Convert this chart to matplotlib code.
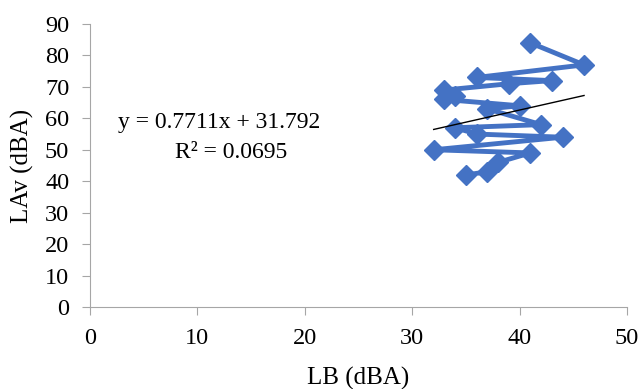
import numpy as np
import matplotlib
matplotlib.use("Agg")
import matplotlib.pyplot as plt

# LB vs LAv readings, in the order they are plotted
lb = [41, 46, 36, 43, 39, 33, 34, 33, 40, 37, 42, 34, 36, 44, 32, 41, 38, 37, 35]
lav = [84, 77, 73, 72, 71, 69, 67, 66, 64, 63, 58, 57, 55, 54, 50, 49, 46, 43, 42]

x_ticks = [0, 10, 20, 30, 40, 50]
y_ticks = [0, 10, 20, 30, 40, 50, 60, 70, 80, 90]
eq_text = "y = 0.7711x + 31.792"
r2_text = "R² = 0.0695"

plt.rcParams['font.family'] = ['Liberation Serif', 'DejaVu Serif']

fig = plt.figure(figsize=(6.41, 3.89), dpi=100)
ax = fig.add_axes([90 / 641, 1 - 307 / 389, (627 - 90) / 641, (307 - 24) / 389])

ax.plot(lb, lav, color='#4472C4', lw=3.5, marker='D', markersize=10, zorder=2)

# linear trendline across the data range
slope, intercept = np.polyfit(lb, lav, 1)
xt = np.array([min(lb), max(lb)])
ax.plot(xt, slope * xt + intercept, color='black', lw=1, zorder=3)

ax.text(12, 58.8, eq_text, ha='center', va='center', fontsize=17)
ax.text(13.1, 49, r2_text, ha='center', va='center', fontsize=17)

ax.set_xlim(0, 50)
ax.set_ylim(0, 90)
ax.set_xticks(x_ticks)
ax.set_yticks(y_ticks)
ax.tick_params(labelsize=17.5, colors='#a6a6a6', labelcolor='black', length=6)
ax.tick_params(axis='x', pad=9)
ax.tick_params(axis='y', pad=9)
ax.set_xlabel("LB (dBA)", fontsize=18, labelpad=13)
ax.set_ylabel("LAv (dBA)", fontsize=18, labelpad=8)

for s in ['top', 'right']:
    ax.spines[s].set_visible(False)
for s in ['left', 'bottom']:
    ax.spines[s].set_color('#a6a6a6')

fig.savefig("out.png", dpi=100)
